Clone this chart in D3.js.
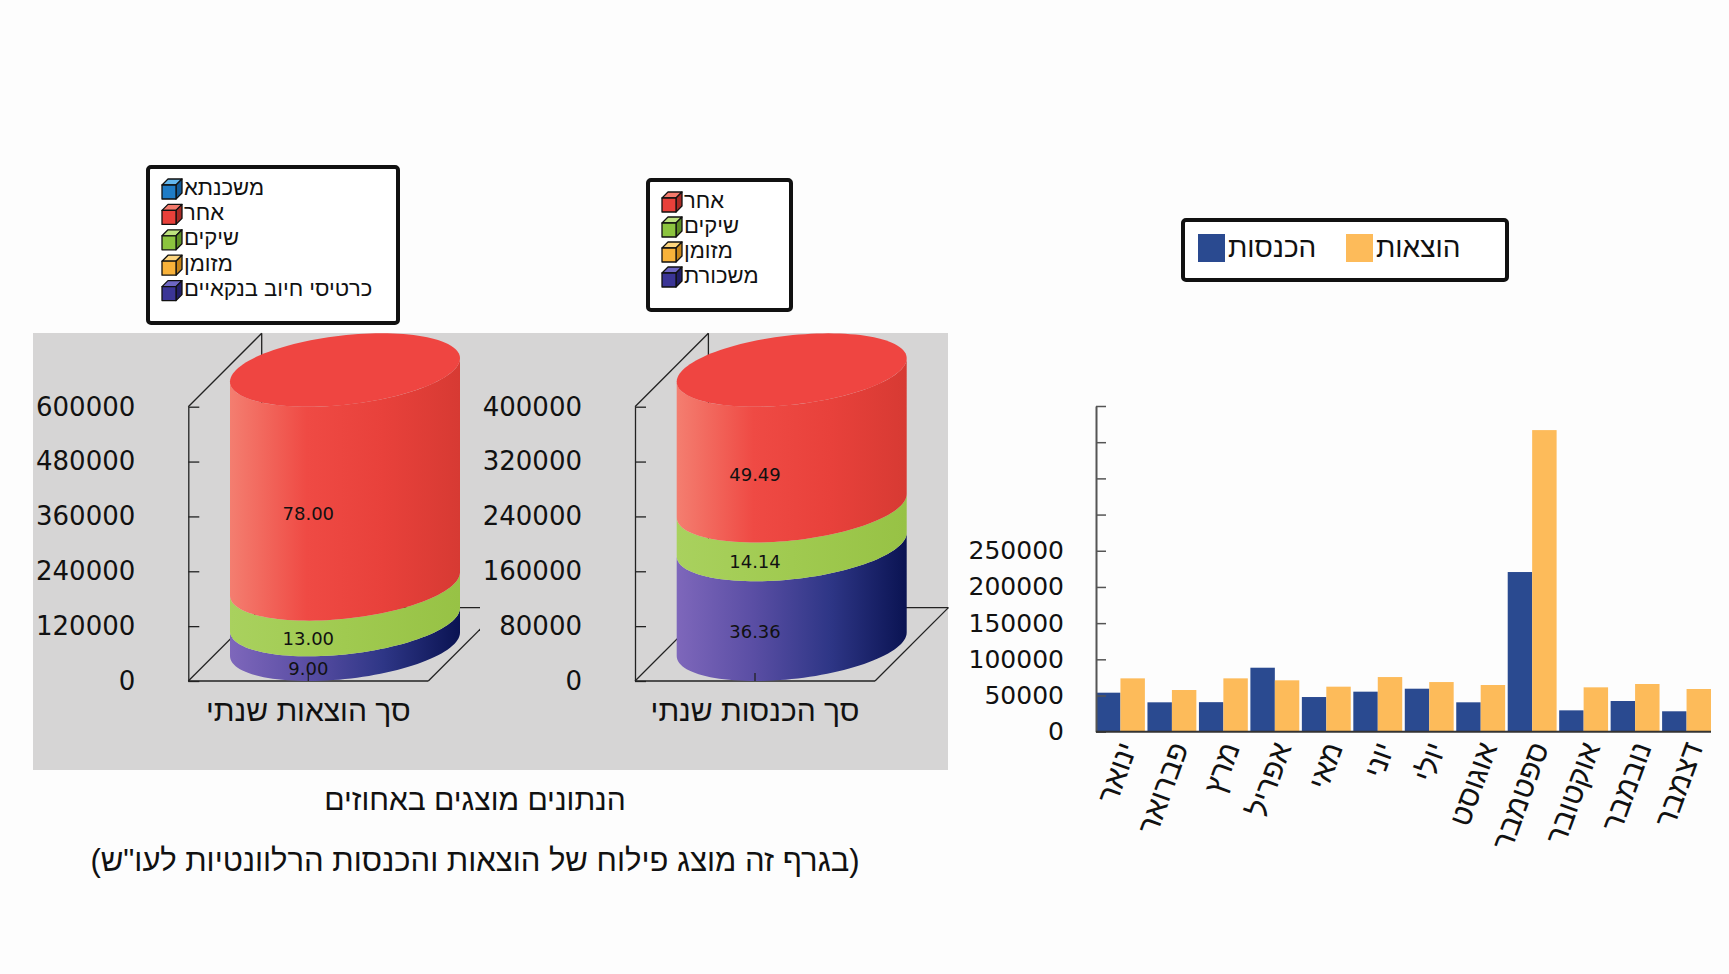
<!DOCTYPE html>
<html>
<head>
<meta charset="utf-8">
<script src="https://cdn.jsdelivr.net/npm/d3@7"></script>
<style>
body { margin: 0; background: #fdfdfd; }
svg { display: block; }
.heb { font-family: "Liberation Sans", "DejaVu Sans", sans-serif; fill: #111; }
.num { font-family: "DejaVu Sans", sans-serif; fill: #111; }
</style>
</head>
<body>
<svg id="canvas" width="1729" height="974"></svg>
<script>

// monthly bars
var months = ['ינואר', 'פברואר', 'מרץ', 'אפריל', 'מאי', 'יוני', 'יולי', 'אוגוסט', 'ספטמבר', 'אוקטובר', 'נובמבר', 'דצמבר'];
var income = [53900, 40600, 40800, 88400, 47900, 55300, 59400, 40600, 220600, 29500, 42400, 28200];
var expenses = [73700, 57600, 73700, 71000, 62200, 75500, 68600, 64500, 416700, 61300, 65900, 59000];
var barSeries = ['הכנסות', 'הוצאות'];
var barTicks = [0, 50000, 100000, 150000, 200000, 250000, 300000, 350000, 400000, 450000];

// annual cylinders (shares in percent)
var expenseCategories = ['משכנתא', 'אחר', 'שיקים', 'מזומן', 'כרטיסי חיוב בנקאיים'];
var expenseShares = [0, 78.00, 13.00, 0, 9.00];
var expenseTotal = 600000;
var expenseTicks = [0, 120000, 240000, 360000, 480000, 600000];

var incomeCategories = ['אחר', 'שיקים', 'מזומן', 'משכורת'];
var incomeShares = [49.49, 14.14, 0, 36.36];
var incomeTotal = 400000;
var incomeTicks = [0, 80000, 160000, 240000, 320000, 400000];

var svg = d3.select("#canvas");
var defs = svg.append("defs");

var palette = {
	'משכנתא': {front: '#1f7cc6', top: '#62b6ee', side: '#135a96', grad: ['#5aa8e0', '#2f86d0', '#175a98']},
	'אחר': {front: '#e8403a', top: '#f47a6c', side: '#a82a25', grad: ['#f47e70', '#ef4a44', '#e8413b', '#d73a33'], cap: '#ef4541'},
	'שיקים': {front: '#8cc43f', top: '#bde27e', side: '#5e8f25', grad: ['#a9d15e', '#a0ca50', '#97c245']},
	'מזומן': {front: '#f8b23a', top: '#fdd57e', side: '#c7851a', grad: ['#fbc260', '#f8b23a', '#d99322']},
	'כרטיסי חיוב בנקאיים': {front: '#3b3596', top: '#6d66c2', side: '#221e66', grad: ['#7e67bb', '#5a4ea4', '#2e3686', '#0a1352']},
	'משכורת': {front: '#3b3596', top: '#6d66c2', side: '#221e66', grad: ['#7e67bb', '#5a4ea4', '#2e3686', '#0a1352']}
};

// grey plot area behind both cylinders
svg.append("rect")
	.attr("x", 33).attr("y", 333)
	.attr("width", 915).attr("height", 437)
	.attr("fill", "#d6d5d5");

var depth = 73.4;
var floorW = 240;

function cylinderChart(cfg) {
	var y = d3.scaleLinear().domain([0, cfg.total]).range([681, 406.7]);
	var x0 = cfg.x0;
	var s = depth / 2;
	var halfW = 115;
	var rx = Math.sqrt(halfW * halfW - s * s);
	var cx = x0 + floorW / 2 + s;
	var yTop = y(cfg.total), yBot = y(0);

	var frame = svg.append("g")
		.attr("clip-path", cfg.clip ? "url(#" + cfg.clip + ")" : null)
		.attr("stroke", "#222").attr("stroke-width", 1.3).attr("fill", "none");
	var lines = [
		[[x0, yTop], [x0 + depth, yTop - depth]],
		[[x0 + depth, yTop - depth], [x0 + depth, yBot - depth]],
		[[x0 + depth, yBot - depth], [x0 + floorW + depth, yBot - depth]],
		[[x0, yBot], [x0 + depth, yBot - depth]],
		[[x0, yBot], [x0 + floorW, yBot]],
		[[x0 + floorW, yBot], [x0 + floorW + depth, yBot - depth]]
	];
	frame.selectAll("line").data(lines).enter().append("line")
		.attr("x1", function(d) { return d[0][0]; })
		.attr("y1", function(d) { return d[0][1]; })
		.attr("x2", function(d) { return d[1][0]; })
		.attr("y2", function(d) { return d[1][1]; });

	var axis = d3.axisLeft(y).tickValues(cfg.ticks)
		.tickSizeInner(-11).tickSizeOuter(0).tickPadding(53)
		.tickFormat(d3.format("d"));
	var ag = svg.append("g").attr("transform", "translate(" + x0 + ",0)").call(axis);
	ag.select(".domain").attr("stroke", "#222").attr("stroke-width", 1.3);
	ag.selectAll(".tick line").attr("stroke", "#222").attr("stroke-width", 1.3);
	ag.selectAll(".tick text").attr("class", "num").attr("font-size", 26).attr("fill", "#111");

	// stack from the last legend entry upwards
	var segs = [];
	var acc = 0;
	for (var i = cfg.categories.length - 1; i >= 0; i--) {
		var v = cfg.shares[i] / 100 * cfg.total;
		if (v > 0) segs.push({name: cfg.categories[i], share: cfg.shares[i], v0: acc, v1: acc + v});
		acc += v;
	}

	var t0 = Math.atan2(s, rx);
	function pt(t, yc) { return [cx + rx * Math.cos(t) + s * Math.sin(t), yc - s * Math.sin(t)]; }
	var n = 60;
	var line = d3.line();

	segs.forEach(function(sg, k) {
		var gid = cfg.id + "g" + k;
		var grad = defs.append("linearGradient").attr("id", gid)
			.attr("gradientUnits", "userSpaceOnUse")
			.attr("x1", cx - halfW).attr("x2", cx + halfW).attr("y1", 0).attr("y2", 0);
		var cols = palette[sg.name].grad;
		cols.forEach(function(c, j) {
			grad.append("stop").attr("offset", j / (cols.length - 1)).attr("stop-color", c);
		});
		var yb = y(sg.v0) - s, yt = y(sg.v1) - s;
		var pts = [];
		for (var j = 0; j <= n; j++) pts.push(pt(Math.PI + t0 + Math.PI * j / n, yb));
		for (var j = n; j >= 0; j--) pts.push(pt(Math.PI + t0 + Math.PI * j / n, yt));
		svg.append("path").attr("d", line(pts) + "Z").attr("fill", "url(#" + gid + ")");
	});

	var last = segs[segs.length - 1];
	var capPts = [];
	for (var j = 0; j <= 2 * n; j++) capPts.push(pt(Math.PI * j / n, y(last.v1) - s));
	svg.append("path").attr("d", line(capPts) + "Z").attr("fill", palette[last.name].cap || palette[last.name].front);

	// category tick at the front of the floor
	svg.append("line")
		.attr("x1", x0 + floorW / 2).attr("x2", x0 + floorW / 2)
		.attr("y1", yBot).attr("y2", yBot - 8)
		.attr("stroke", "#222").attr("stroke-width", 1.3);

	svg.selectAll(null).data(segs).enter().append("text")
		.attr("class", "num")
		.attr("x", cx - s)
		.attr("y", function(d) { return (y(d.v0) + y(d.v1)) / 2; })
		.attr("dy", "0.36em")
		.attr("text-anchor", "middle")
		.attr("font-size", 18)
		.attr("fill", "#222")
		.text(function(d) { return d3.format(".2f")(d.share); });

	svg.append("text").attr("class", "heb")
		.attr("x", x0 + floorW / 2).attr("y", 721)
		.attr("text-anchor", "middle").attr("direction", "rtl")
		.attr("font-size", 30)
		.text(cfg.label);

	// legend with little cubes
	var lg = svg.append("g");
	lg.append("rect")
		.attr("x", cfg.legend.x).attr("y", cfg.legend.y)
		.attr("width", cfg.legend.w).attr("height", cfg.legend.h)
		.attr("rx", 3).attr("fill", "#fff").attr("stroke", "#111").attr("stroke-width", 4);
	cfg.categories.forEach(function(name, i) {
		var cy = cfg.legend.y + cfg.legend.first + i * cfg.legend.step;
		var bx = cfg.legend.x + 14, by = cy - 7, sz = 14, o = 6;
		var p = palette[name];
		var item = lg.append("g").attr("stroke", "#111").attr("stroke-width", 1.3).attr("stroke-linejoin", "round");
		item.append("path").attr("fill", p.top)
			.attr("d", "M" + bx + "," + by + "l" + o + "," + (-o) + "h" + sz + "l" + (-o) + "," + o + "Z");
		item.append("path").attr("fill", p.side)
			.attr("d", "M" + (bx + sz) + "," + by + "l" + o + "," + (-o) + "v" + sz + "l" + (-o) + "," + o + "Z");
		item.append("rect").attr("x", bx).attr("y", by).attr("width", sz).attr("height", sz).attr("fill", p.front);
		lg.append("text").attr("class", "heb")
			.attr("x", bx + sz + o + 2).attr("y", cy)
			.attr("dy", "0.12em")
			.attr("font-size", 22)
			.text(name);
	});
}

svg.append("clipPath").attr("id", "clipLeft")
	.append("rect").attr("x", 0).attr("y", 0).attr("width", 480).attr("height", 974);

cylinderChart({
	id: "exp", x0: 188.3, total: expenseTotal, ticks: expenseTicks,
	categories: expenseCategories, shares: expenseShares,
	label: 'סך הוצאות שנתי', clip: "clipLeft",
	legend: {x: 148, y: 167, w: 250, h: 156, first: 25, step: 25.4}
});
cylinderChart({
	id: "inc", x0: 635, total: incomeTotal, ticks: incomeTicks,
	categories: incomeCategories, shares: incomeShares,
	label: 'סך הכנסות שנתי',
	legend: {x: 648, y: 180, w: 143, h: 130, first: 25, step: 25}
});

svg.append("text").attr("class", "heb")
	.attr("x", 475).attr("y", 810)
	.attr("text-anchor", "middle").attr("direction", "rtl")
	.attr("font-size", 30)
	.text('הנתונים מוצגים באחוזים');
svg.append("text").attr("class", "heb")
	.attr("x", 475).attr("y", 871)
	.attr("text-anchor", "middle").attr("direction", "rtl")
	.attr("font-size", 31)
	.text('(בגרף זה מוצג פילוח של  הוצאות והכנסות הרלוונטיות לעו"ש)');

// monthly grouped bars
var x = d3.scaleBand().domain(months).range([1096, 1711]).paddingInner(0.05).paddingOuter(0);
var xs = d3.scaleBand().domain(barSeries).range([0, x.bandwidth()]);
var yb = d3.scaleLinear().domain([0, 450000]).range([731.7, 406]);
var barColors = {'הכנסות': '#2a4a90', 'הוצאות': '#fdbb5a'};

var rows = months.map(function(m, i) { return {month: m, values: [income[i], expenses[i]]}; });
var groups = svg.append("g").selectAll("g").data(rows).enter().append("g")
	.attr("transform", function(d) { return "translate(" + x(d.month) + ",0)"; });
groups.selectAll("rect")
	.data(function(d) { return barSeries.map(function(k, j) { return {key: k, value: d.values[j]}; }); })
	.enter().append("rect")
	.attr("x", function(d) { return xs(d.key); })
	.attr("y", function(d) { return yb(d.value); })
	.attr("width", xs.bandwidth())
	.attr("height", function(d) { return yb(0) - yb(d.value); })
	.attr("fill", function(d) { return barColors[d.key]; });

var yAxis = d3.axisLeft(yb).tickValues(barTicks)
	.tickSizeInner(-10).tickSizeOuter(0).tickPadding(32)
	.tickFormat(function(d) { return d <= 250000 ? d : ''; });
var yg = svg.append("g").attr("transform", "translate(1096,0)").call(yAxis);
yg.select(".domain").attr("stroke", "#555").attr("stroke-width", 2);
yg.selectAll(".tick line").attr("stroke", "#555").attr("stroke-width", 1.5);
yg.selectAll(".tick text").attr("class", "num").attr("font-size", 25).attr("fill", "#111");

svg.append("line")
	.attr("x1", 1096).attr("x2", 1711)
	.attr("y1", yb(0)).attr("y2", yb(0))
	.attr("stroke", "#333").attr("stroke-width", 2);

svg.selectAll(null).data(months).enter().append("text")
	.attr("class", "heb")
	.attr("font-size", 30)
	.attr("text-anchor", "end")
	.attr("transform", function(d) {
		return "translate(" + (x(d) + x.bandwidth() / 2 + 17) + ",747) rotate(-70)";
	})
	.text(function(d) { return d; });

// legend for the bars
var bl = svg.append("g");
bl.append("rect").attr("x", 1183).attr("y", 220).attr("width", 324).attr("height", 60)
	.attr("rx", 3).attr("fill", "#fff").attr("stroke", "#111").attr("stroke-width", 4);
var legendItems = [{key: 'הכנסות', x: 1198}, {key: 'הוצאות', x: 1346}];
legendItems.forEach(function(d) {
	bl.append("rect").attr("x", d.x).attr("y", 234).attr("width", 27).attr("height", 28)
		.attr("fill", barColors[d.key]);
	bl.append("text").attr("class", "heb")
		.attr("x", d.x + 30).attr("y", 257)
		.attr("font-size", 28)
		.text(d.key);
});

</script>
</body>
</html>
